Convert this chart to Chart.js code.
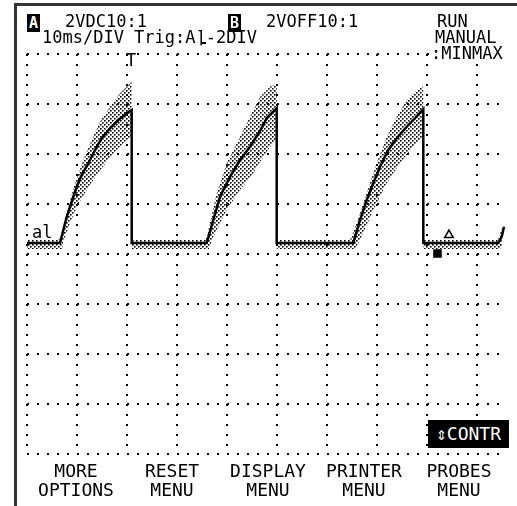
<!DOCTYPE html>
<html>
<head>
<meta charset="utf-8">
<script src="https://cdn.jsdelivr.net/npm/chart.js@4.4.0/dist/chart.umd.min.js"></script>
<style>
  html, body { margin: 0; padding: 0; background: #fff; }
  #scope { position: relative; width: 517px; height: 506px; overflow: hidden; background: #fff; }
  #scope canvas { position: absolute; left: 0; top: 0; }
  .frame-top { position: absolute; left: 14px; top: 3px; width: 503px; height: 3px; background: #333; }
  .frame-left { position: absolute; left: 14px; top: 3px; width: 3px; height: 503px; background: #333; }
  .lcd { position: absolute; font-family: 'DejaVu Sans Mono', monospace; font-size: 17px; line-height: 17px;
         color: #000; white-space: pre; }
  .chan { position: absolute; width: 13px; height: 18px; background: #000; color: #fff; text-align: center;
          font-family: 'DejaVu Sans Mono', monospace; font-size: 15px; line-height: 18px; font-weight: bold; }
  .edge { position: relative; display: inline-block; }
  .edge::after { content: ''; position: absolute; left: 6px; bottom: 2px; width: 4px; height: 2px; background: #000; }
  .bg { background: #fff; }
  .menu { position: absolute; width: 100px; text-align: center; font-family: 'DejaVu Sans Mono', monospace;
          font-size: 18px; line-height: 19px; color: #000; white-space: pre; }
  .softkey { position: absolute; left: 428px; top: 420px; width: 81px; height: 28px; background: #000; color: #fff;
             font-family: 'DejaVu Sans Mono', monospace; font-size: 18px; line-height: 28px; text-align: center; }
</style>
</head>
<body>
<div id="scope">
  <canvas id="c" width="517" height="506"></canvas>
  <div class="frame-top"></div>
  <div class="frame-left"></div>

  <div class="chan" style="left:27px;top:14px;">A</div>
  <div class="lcd" style="left:65px;top:13px;">2VDC10:1</div>
  <div class="chan" style="left:228px;top:14px;">B</div>
  <div class="lcd" style="left:266px;top:13px;">2VOFF10:1</div>
  <div class="lcd" style="left:42px;top:29px;">10ms/DIV Trig:A<span class="edge">⌉</span>-2DIV</div>
  <div class="lcd" style="left:437px;top:13px;">RUN</div>
  <div class="lcd" style="left:435px;top:29px;">MANUAL</div>
  <div class="lcd bg" style="left:431px;top:45px;">:MINMAX</div>

  <div class="lcd" style="left:126px;top:52px;">T</div>
  <div class="lcd" style="left:32px;top:224px;">al</div>

  <div class="softkey">⇕CONTR</div>

  <div class="menu" style="left:26px;top:461px;">MORE
OPTIONS</div>
  <div class="menu" style="left:122px;top:461px;">RESET
MENU</div>
  <div class="menu" style="left:218px;top:461px;">DISPLAY
MENU</div>
  <div class="menu" style="left:314px;top:461px;">PRINTER
MENU</div>
  <div class="menu" style="left:409px;top:461px;">PROBES
MENU</div>
</div>

<script>
// Channel A, 10 ms/div, 2 V/div. Time in ms from the left edge of the graticule, level in volts.
const traceTime = [0, 6.6, 7.94, 8.94, 9.94, 10.94, 12.26, 13.6, 14.94, 16.6, 18.26, 19.94, 20.94, 20.94,
  35.94, 37.26, 38.6, 40.6, 42.6, 44.6, 46.6, 47.94, 49.94, 49.94,
  65.26, 66.6, 67.94, 69.26, 70.6, 72.26, 73.94, 75.94, 77.6, 79.26, 79.26,
  94.26, 94.94, 95.4, 95.94];
const traceVolt = [0.44, 0.44, 1.49, 2.09, 2.69, 3.16, 3.63, 4.16, 4.63, 5.03, 5.36, 5.63, 5.76, 0.44,
  0.44, 1.36, 2.29, 3.09, 3.76, 4.29, 4.92, 5.43, 5.83, 0.44,
  0.44, 1.36, 2.16, 2.83, 3.49, 4.16, 4.63, 5.09, 5.43, 5.79, 0.44,
  0.44, 0.69, 1.09, 1.49];

// MINMAX capture: upper and lower limits of the trace.
const maxTime = [0, 6.2, 6.94, 8.26, 9.6, 11.26, 12.94, 14.6, 16.6, 18.6, 20.26, 20.94, 20.94,
  35.4, 36.0, 37.94, 39.94, 42.6, 45.26, 46.6, 48.6, 49.94, 49.94,
  64.6, 65.94, 67.94, 69.94, 71.94, 73.94, 75.94, 77.94, 79.26, 79.26,
  94.2, 95.0, 95.8, 96.2];
const maxVolt = [0.56, 0.56, 0.69, 1.89, 2.83, 3.76, 4.56, 5.29, 5.89, 6.43, 6.76, 6.89, 0.56,
  0.56, 0.72, 2.43, 3.63, 4.69, 5.76, 6.28, 6.69, 6.83, 0.56,
  0.56, 1.24, 2.44, 3.64, 4.69, 5.49, 6.16, 6.56, 6.69, 0.56,
  0.56, 1.04, 1.64, 1.96];
const minTime = [0, 7.0, 7.26, 8.6, 9.94, 11.94, 13.94, 15.94, 17.94, 19.6, 20.94, 20.94,
  36.4, 37.26, 39.94, 42.6, 45.26, 46.6, 48.2, 49.94, 49.94,
  65.6, 66.6, 69.26, 71.94, 74.6, 77.26, 79.26, 79.26,
  94.6, 95.8, 96.2];
const minVolt = [0.2, 0.2, 0.49, 1.24, 1.89, 2.56, 3.16, 3.69, 4.16, 4.49, 4.67, 0.2,
  0.2, 0.69, 1.76, 2.56, 3.23, 3.68, 4.16, 4.63, 0.2,
  0.2, 0.56, 1.76, 2.83, 3.63, 4.29, 4.67, 0.2,
  0.2, 0.56, 1.96];

// Cursor markers near the right-hand edge.
const markerTime = [84.4, 82.1];
const markerVolt = [0.76, 0.02];
const markerStyle = ['triangle', 'rect'];

const xDivMs = 10;     // time per division
const yDivVolt = 2;    // volts per division

const toPoints = (xs, ys) => xs.map((x, i) => ({ x: x, y: ys[i] }));

// Closed outline of the min/max band: along the upper limit, back along the lower one.
const bandPoints = toPoints(maxTime, maxVolt).concat(toPoints(minTime, minVolt).reverse());

// Stippled fill, like the LCD's min/max shading: small offset dots.
function stipple() {
  const p = document.createElement('canvas');
  p.width = 4; p.height = 4;
  const g = p.getContext('2d');
  g.fillStyle = '#000';
  g.fillRect(0, 0, 1.6, 1.6);
  g.fillRect(2, 2, 1.6, 1.6);
  return g.createPattern(p, 'repeat');
}

new Chart(document.getElementById('c'), {
  type: 'line',
  data: {
    datasets: [
      {
        data: toPoints(traceTime, traceVolt),
        borderColor: '#000',
        borderWidth: 2.5,
        pointRadius: 0,
        tension: 0,
        fill: false,
        clip: false,
        order: 0
      },
      {
        data: toPoints(markerTime, markerVolt),
        showLine: false,
        pointStyle: markerStyle,
        pointRadius: 5,
        pointBackgroundColor: ['#fff', '#000'],
        pointBorderColor: '#000',
        pointBorderWidth: 1.5,
        order: 1
      },
      {
        data: bandPoints,
        borderWidth: 0,
        borderColor: 'rgba(0,0,0,0)',
        backgroundColor: stipple(),
        pointRadius: 0,
        tension: 0,
        fill: 'shape',
        order: 2
      }
    ]
  },
  options: {
    responsive: false,
    animation: false,
    devicePixelRatio: 1,
    layout: { padding: { left: 27, top: 54, right: 15, bottom: 52 } },
    plugins: { legend: { display: false }, tooltip: { enabled: false } },
    scales: {
      x: {
        type: 'linear',
        min: 0,
        max: 95,
        ticks: { display: false, stepSize: xDivMs, includeBounds: false },
        grid: { color: '#000', lineWidth: 2, drawTicks: false },
        border: { display: false, dash: [2, 8] }
      },
      y: {
        type: 'linear',
        min: -8,
        max: 8,
        ticks: { display: false, stepSize: yDivVolt },
        grid: { color: '#000', lineWidth: 2, drawTicks: false },
        border: { display: false, dash: [2, 8] }
      }
    }
  }
});
</script>
</body>
</html>
